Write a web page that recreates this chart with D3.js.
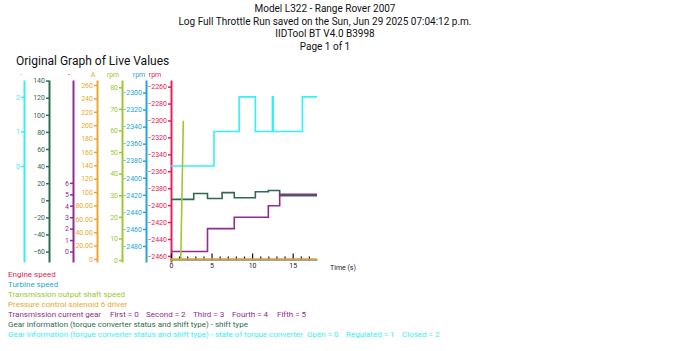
<!DOCTYPE html>
<html>
<head>
<meta charset="utf-8">
<script src="https://cdn.jsdelivr.net/npm/d3@7"></script>
<style>
  body { margin: 0; background: #fff; }
  svg text { font-family: Roboto, "Noto Sans", sans-serif; }
</style>
</head>
<body>
<div id="chart"></div>
<script>
// header text
var titleLines = ["Model L322 - Range Rover 2007",
  "Log Full Throttle Run saved on the Sun, Jun 29 2025 07:04:12 p.m.",
  "IIDTool BT V4.0 B3998",
  "Page 1 of 1"];

// time axis
var timeTicks = [0, 5, 10, 15];
var timeMinor = [1, 2, 3, 4, 6, 7, 8, 9, 11, 12, 13, 14, 16, 17];

// tick labels of each y axis
var tcTicks = [0, 1, 2];
var shiftTicks = [-60, -40, -20, 0, 20, 40, 60, 80, 100, 120, 140];
var gearTicks = [0, 1, 2, 3, 4, 5, 6];
var pcsTicks = [0, 20, 40, 60, 80, 100, 120, 140, 160, 180, 200, 220, 240, 260];
var pcsLabels = ["0", "20.00", "40.00", "60.00", "80.00", "100", "120", "140", "160", "180", "200", "220", "240", "260"];
var outTicks = [0, 10, 20, 30, 40, 50, 60, 70, 80];
var turbTicks = [-2480, -2460, -2440, -2420, -2400, -2380, -2360, -2340, -2320, -2300];
var engTicks = [-2460, -2440, -2420, -2400, -2380, -2360, -2340, -2320, -2300, -2280, -2260];

// series (time in s, step values)
var tcTime = [0, 5.3, 8.4, 10.4, 12.5, 12.6, 16.2, 18];
var tcState = [0, 1, 2, 1, 2, 1, 2, 2];

var shiftTime = [0, 2.8, 4.5, 6.3, 7.8, 10.4, 12.0, 13.4, 18];
var shiftType = [1, 8, 2, 9, 3, 10, 11.5, 5.5, 5.5];

var gearTime = [0, 4.5, 7.8, 12.0, 13.4, 18];
var gear = [0, 2, 3, 4, 5, 5];

var outTime = [0, 1.2, 1.36, 1.52];
var outSpeed = [0, 0, 32, 64.5];

var pcsTime = [0, 18];
var pcsCurrent = [0, 0];

var legendItems = [
  {parts: ["Engine speed"], color: "#e0245a"},
  {parts: ["Turbine speed"], color: "#28a4d8"},
  {parts: ["Transmission output shaft speed"], color: "#9cc832"},
  {parts: ["Pressure control solenoid 6 driver"], color: "#eaa82a"},
  {parts: ["Transmission current gear", "First = 0", "Second = 2", "Third = 3", "Fourth = 4", "Fifth = 5"], color: "#8e2c92"},
  {parts: ["Gear information (torque converter status and shift type) - shift type"], color: "#2f6a4e"},
  {parts: ["Gear information (torque converter status and shift type) - state of torque converter", "Open = 0", "Regulated = 1", "Closed = 2"], color: "#38eef0"}
];
// x of each legend part
var legendPartX = [
  [8], [8], [8], [8],
  [8, 110, 146, 193, 232, 277],
  [8],
  [8, 307, 346, 402]
];

var width = 699, height = 351;
var yTop = 80, yBottom = 262;

var svg = d3.select("#chart").append("svg")
  .attr("width", width)
  .attr("height", height);

// title
svg.selectAll(".title")
  .data(titleLines)
  .enter().append("text")
    .attr("class", "title")
    .attr("x", 325)
    .attr("y", function(d, i) { return 12 + i * 12.5; })
    .attr("text-anchor", "middle")
    .attr("font-size", 10)
    .attr("fill", "#111")
    .text(function(d) { return d; });

svg.append("text")
  .attr("x", 16)
  .attr("y", 65)
  .attr("font-size", 12)
  .attr("fill", "#111")
  .text("Original Graph of Live Values");

// y scales, one per channel
var yTc = d3.scaleLinear().domain([-2.78, 2.49]).range([yBottom, yTop]);
var yShift = d3.scaleLinear().domain([-72.2, 140.7]).range([yBottom, yTop]);
var yGear = d3.scaleLinear().domain([-0.92, 15.0]).range([yBottom, yTop]);
var yPcs = d3.scaleLinear().domain([-4.5, 267.5]).range([yBottom, yTop]);
var yOut = d3.scaleLinear().domain([-0.93, 83.4]).range([yBottom, yTop]);
var yTurb = d3.scaleLinear().domain([-2498.8, -2285.3]).range([yBottom, yTop]);
var yEng = d3.scaleLinear().domain([-2467.2, -2252.2]).range([yBottom, yTop]);

var axes = [
  {x: 24, scale: yTc, ticks: tcTicks, color: "#38eef0", unit: "-", ux: 21},
  {x: 49, scale: yShift, ticks: shiftTicks, color: "#2f6a4e", unit: "", ux: 45},
  {x: 73, scale: yGear, ticks: gearTicks, color: "#8e2c92", unit: "-", ux: 69},
  {x: 97, scale: yPcs, ticks: pcsTicks, labels: pcsLabels, color: "#eaa82a", unit: "A", ux: 93},
  {x: 122, scale: yOut, ticks: outTicks, color: "#9cc832", unit: "rpm", ux: 113},
  {x: 146, scale: yTurb, ticks: turbTicks, color: "#28a4d8", unit: "rpm", ux: 139},
  {x: 171, scale: yEng, ticks: engTicks, color: "#e0245a", unit: "rpm", ux: 155}
];

axes.forEach(function(a) {
  var ax = d3.axisLeft(a.scale)
    .tickValues(a.ticks)
    .tickSizeInner(3)
    .tickSizeOuter(0)
    .tickPadding(1);
  if (a.labels) {
    ax.tickFormat(function(d, i) { return a.labels[i]; });
  } else {
    ax.tickFormat(d3.format("d"));
  }
  var g = svg.append("g")
    .attr("transform", "translate(" + a.x + ",0)")
    .call(ax);
  g.select(".domain").attr("stroke", a.color).attr("stroke-width", 2);
  g.selectAll(".tick line").attr("stroke", a.color).attr("stroke-width", 1.5);
  g.selectAll(".tick text")
    .attr("fill", a.color)
    .attr("font-size", 7)
    .style("font-family", "Roboto, sans-serif");
  svg.append("text")
    .attr("x", a.ux)
    .attr("y", 77)
    .attr("text-anchor", "middle")
    .attr("font-size", 7)
    .attr("fill", a.color)
    .text(a.unit);
});

// time axis
var x = d3.scaleLinear().domain([0, 18]).range([171, 317]);

var xAx = svg.append("g")
  .attr("transform", "translate(0," + 259.5 + ")")
  .call(d3.axisBottom(x).tickValues(timeTicks).tickSizeInner(-6).tickSizeOuter(0).tickPadding(4));
xAx.select(".domain").attr("stroke", "#444");
xAx.selectAll(".tick line").attr("stroke", "#111").attr("stroke-width", 1.2);
xAx.selectAll(".tick text").attr("font-size", 7).attr("fill", "#222")
  .style("font-family", "Roboto, sans-serif");

var xMinor = svg.append("g")
  .attr("transform", "translate(0," + 259.5 + ")")
  .call(d3.axisBottom(x).tickValues(timeMinor).tickSizeInner(-3).tickSizeOuter(0).tickFormat(""));
xMinor.select(".domain").remove();
xMinor.selectAll(".tick line").attr("stroke", "#111").attr("stroke-width", 1.2);

svg.append("text")
  .attr("x", 330)
  .attr("y", 270)
  .attr("font-size", 7)
  .attr("fill", "#222")
  .text("Time (s)");

// series
function drawSeries(times, values, yScale, color, curve) {
  var pts = times.map(function(t, i) { return [t, values[i]]; });
  svg.append("path")
    .datum(pts)
    .attr("fill", "none")
    .attr("stroke", color)
    .attr("stroke-width", 1.6)
    .attr("d", d3.line()
      .x(function(d) { return x(d[0]); })
      .y(function(d) { return yScale(d[1]); })
      .curve(curve));
}

drawSeries(tcTime, tcState, yTc, "#33f2f4", d3.curveStepAfter);
drawSeries(shiftTime, shiftType, yShift, "#2f6a4e", d3.curveStepAfter);
drawSeries(gearTime, gear, yGear, "#8e2c92", d3.curveStepAfter);
drawSeries(pcsTime, pcsCurrent, yPcs, "#d8a23a", d3.curveLinear);
drawSeries(outTime, outSpeed, yOut, "#9cc832", d3.curveLinear);

// legend
legendItems.forEach(function(item, i) {
  var t = svg.append("text")
    .attr("y", 277 + i * 10)
    .attr("font-size", 8)
    .attr("fill", item.color);
  t.selectAll("tspan")
    .data(item.parts)
    .enter().append("tspan")
      .attr("x", function(d, j) { return legendPartX[i][j]; })
      .text(function(d) { return d; });
});
</script>
</body>
</html>
